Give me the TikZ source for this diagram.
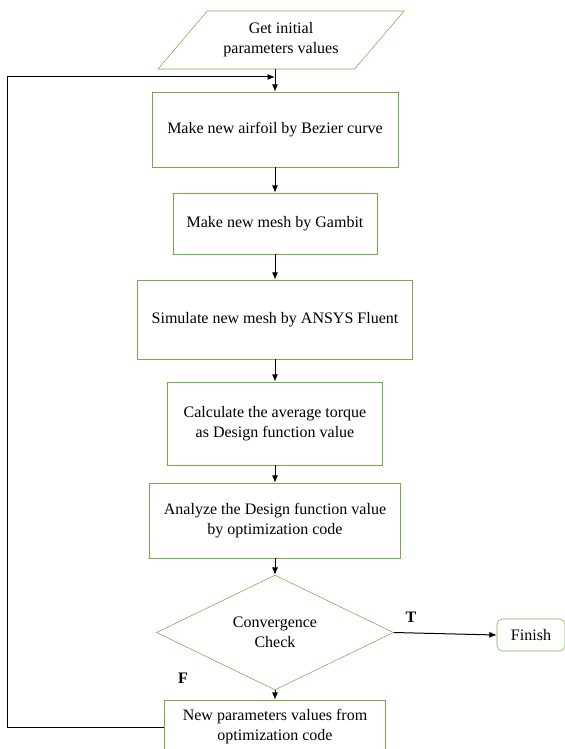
\documentclass[tikz,border=0pt]{standalone}
\usepackage{fontspec}
\setmainfont{Liberation Serif}
\usetikzlibrary{shapes.geometric,arrows.meta}
\definecolor{boxgreen}{RGB}{112,173,71}
\begin{document}
\begin{tikzpicture}[
	x=0.75pt, y=-0.75pt,
	font=\fontsize{12pt}{15pt}\selectfont,
	box/.style={draw=boxgreen, rectangle, align=center, inner sep=+0pt},
	io/.style={draw=boxgreen, trapezium, trapezium left angle=35, trapezium right angle=145,
		trapezium stretches body, align=center, inner sep=+0pt},
	check/.style={draw=boxgreen, diamond, align=center, inner sep=+0pt},
	flow/.style={draw,-{Latex[length=5.5pt,width=4.5pt]}, line width=0.75pt}
]
\useasboundingbox (0,0) rectangle (564,749);
\node[io, minimum width=184.5pt, minimum height=43.5pt] (In) at (281,40) {Get initial\\parameters values};
\node[box, minimum width=184.5pt, minimum height=56.25pt] (Air) at (275,129.5) {Make new airfoil by Bezier curve};
\node[box, minimum width=153pt, minimum height=45.75pt] (Mesh) at (275,223.5) {Make new mesh by Gambit};
\node[box, minimum width=206.25pt, minimum height=59.25pt] (Sim) at (275,319.5) {Simulate new mesh by ANSYS Fluent};
\node[box, minimum width=161.25pt, minimum height=62.25pt] (Calc) at (275,423.5) {Calculate the average torque\\as Design function value};
\node[box, minimum width=188.25pt, minimum height=56.25pt] (Ana) at (275,520.5) {Analyze the Design function value\\by optimization code};
\node[check, minimum width=177.75pt, minimum height=71.25pt] (Chk) at (275,632.5) {Convergence\\Check};
\node[box, rounded corners=4pt, minimum width=51pt, minimum height=24pt] (Fin) at (531,635) {Finish};
\node[box, minimum width=165.75pt, minimum height=40.5pt] (New) at (275,727) {New parameters values from\\optimization code};
\node (T) at (411,617) {\textbf{T}};
\node (F) at (183,678) {\textbf{F}};
\coordinate (J) at (275,77);
\coordinate (L) at (7,77);
% main flow
\draw[flow] (In.south -| Air.north) -- (Air.north);
\draw[flow] (Air) -- (Mesh);
\draw[flow] (Mesh) -- (Sim);
\draw[flow] (Sim) -- (Calc);
\draw[flow] (Calc) -- (Ana);
\draw[flow] (Ana) -- (Chk);
\draw[flow] (Chk.east) -- (Fin.west);
\draw[flow] (Chk) -- (New);
% loop back
\draw[flow] (New.west) -| (L) -- (J);
\end{tikzpicture}
\end{document}
